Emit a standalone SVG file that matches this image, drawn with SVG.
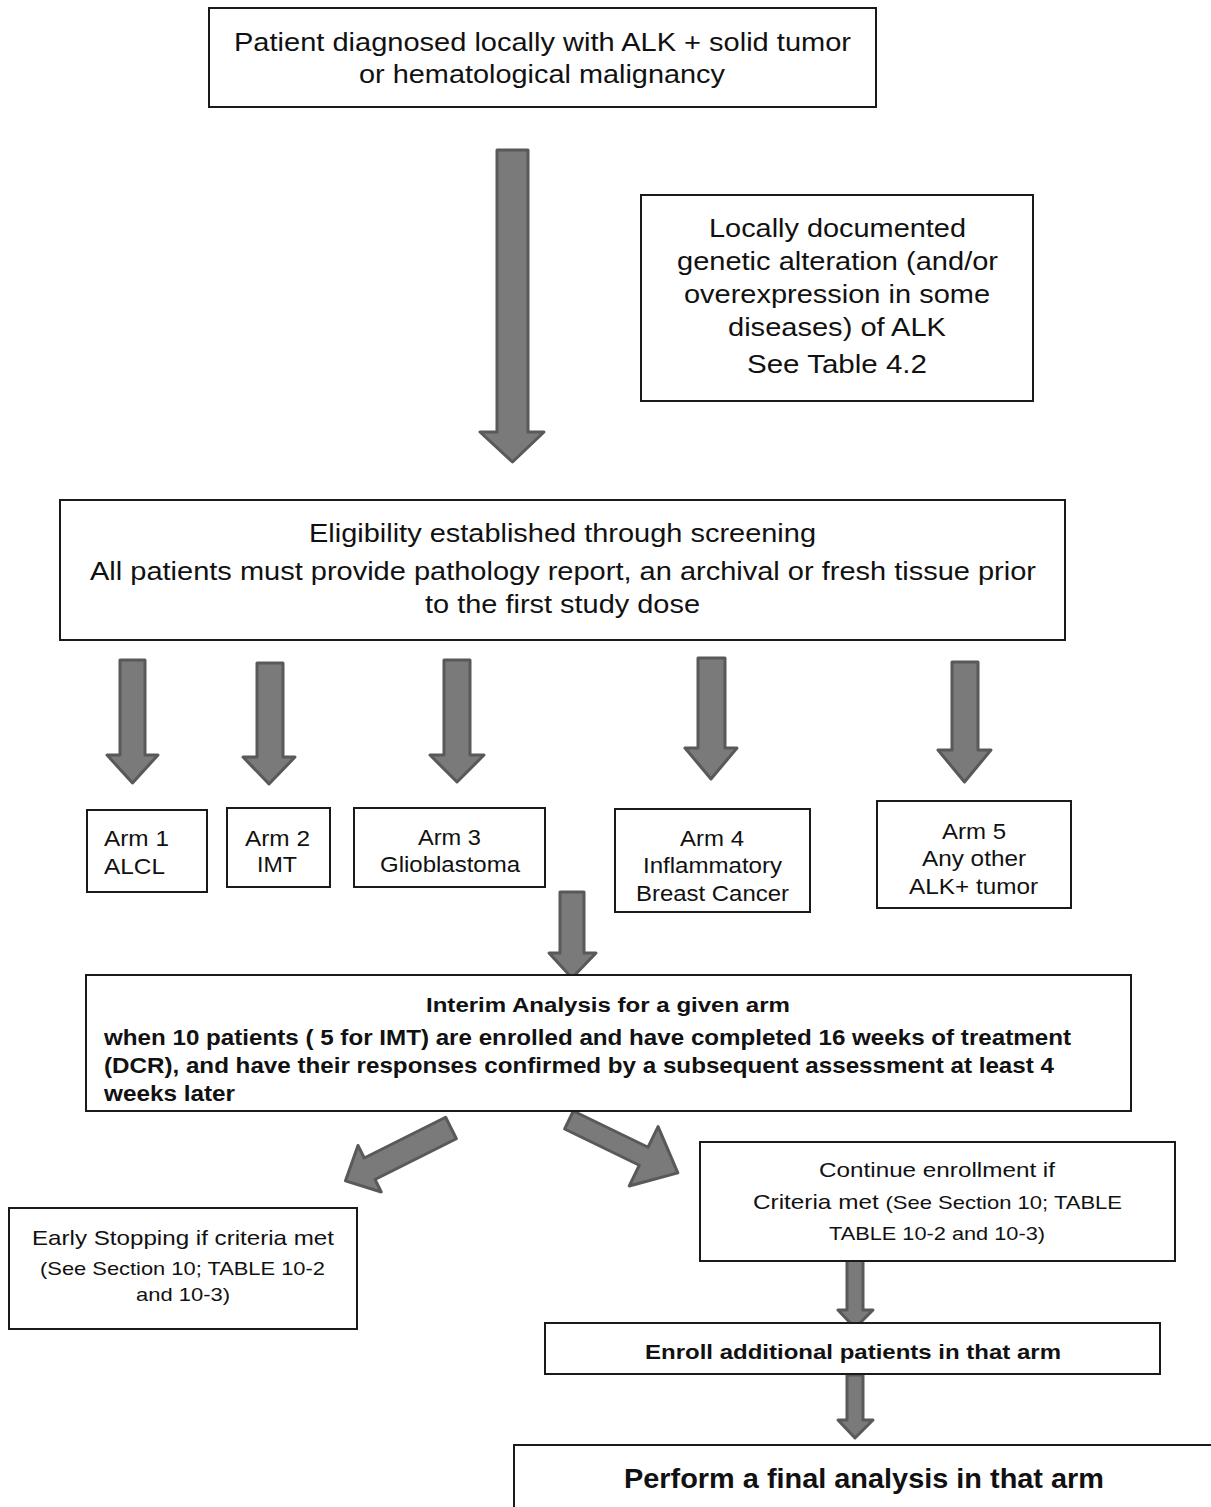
<svg xmlns="http://www.w3.org/2000/svg" width="1211" height="1507" viewBox="0 0 1211 1507">
<style>
.box{fill:#fff;stroke:#1a1a1a;stroke-width:2}
.arr{fill:#7a7a7a;stroke:#595959;stroke-width:3;stroke-linejoin:round}
.t{font-family:"Liberation Sans",Arial,sans-serif;fill:#111}
.c{text-anchor:middle}
.b{font-family:"Liberation Sans Narrow","Liberation Sans",Arial,sans-serif;font-weight:bold;fill:#111}
</style>
<rect width="1211" height="1507" fill="#fff"/>
<g id="connectors">
<path class="arr" d="M497,150 H528 V432 H544 L512.5,462 L480,432 H497 Z"/>
<path class="arr" d="M120,660 H145 V755 H158 L132.5,783 L107,755 H120 Z"/>
<path class="arr" d="M257,663 H283 V757 H295 L269,784 L243,757 H257 Z"/>
<path class="arr" d="M444,660 H470 V755 H484 L457,782 L430,755 H444 Z"/>
<path class="arr" d="M698,658 H725 V748 H737 L711,779 L685,748 H698 Z"/>
<path class="arr" d="M952,662 H978 V750 H991 L964.5,782 L938,750 H952 Z"/>
<path class="arr" d="M560,892 H584 V953 H596 L572,978 L549,953 H560 Z"/>
<path class="arr" transform="translate(451,1128) rotate(153.4)" d="M0,-12 H91 V-26 L118,0 L91,26 V12 H0 Z"/>
<path class="arr" transform="translate(569,1120) rotate(25.9)" d="M0,-10 H83 V-33 L121,0 L83,33 V10 H0 Z"/>
<path class="arr" d="M847,1257 H863 V1310 H873 L855,1328 L838,1310 H847 Z"/>
<path class="arr" d="M847,1375 H863 V1420 H873 L855,1438 L838,1420 H847 Z"/>
</g>
<g id="n_patient">
<rect class="box" x="209" y="8" width="667" height="99"/>
<text class="t c" x="542.5" y="51" font-size="26" textLength="617" lengthAdjust="spacingAndGlyphs">Patient diagnosed locally with ALK + solid tumor</text>
<text class="t c" x="542" y="83" font-size="26" textLength="366" lengthAdjust="spacingAndGlyphs">or hematological malignancy</text>
</g>
<g id="n_genetic">
<rect class="box" x="641" y="195" width="392" height="206"/>
<text class="t c" x="837.5" y="237" font-size="26" textLength="257" lengthAdjust="spacingAndGlyphs">Locally documented</text>
<text class="t c" x="837.5" y="270" font-size="26" textLength="321" lengthAdjust="spacingAndGlyphs">genetic alteration (and/or</text>
<text class="t c" x="837" y="303" font-size="26" textLength="306" lengthAdjust="spacingAndGlyphs">overexpression in some</text>
<text class="t c" x="837" y="336" font-size="26" textLength="218" lengthAdjust="spacingAndGlyphs">diseases) of ALK</text>
<text class="t c" x="837" y="373" font-size="26" textLength="180" lengthAdjust="spacingAndGlyphs">See Table 4.2</text>
</g>
<g id="n_eligibility">
<rect class="box" x="60" y="500" width="1005" height="140"/>
<text class="t c" x="562.5" y="542" font-size="26" textLength="507" lengthAdjust="spacingAndGlyphs">Eligibility established through screening</text>
<text class="t c" x="563" y="580" font-size="26" textLength="946" lengthAdjust="spacingAndGlyphs">All patients must provide pathology report, an archival or fresh tissue prior</text>
<text class="t c" x="562.5" y="613" font-size="26" textLength="275" lengthAdjust="spacingAndGlyphs">to the first study dose</text>
</g>
<g id="n_arm1">
<rect class="box" x="87" y="810" width="120" height="82"/>
<text class="t" x="104" y="846" font-size="22" textLength="65" lengthAdjust="spacingAndGlyphs">Arm 1</text>
<text class="t" x="104" y="874" font-size="22" textLength="61" lengthAdjust="spacingAndGlyphs">ALCL</text>
</g>
<g id="n_arm2">
<rect class="box" x="227" y="808" width="103" height="79"/>
<text class="t c" x="277.5" y="846" font-size="22" textLength="65" lengthAdjust="spacingAndGlyphs">Arm 2</text>
<text class="t c" x="277" y="872" font-size="22" textLength="40" lengthAdjust="spacingAndGlyphs">IMT</text>
</g>
<g id="n_arm3">
<rect class="box" x="354" y="808" width="191" height="79"/>
<text class="t c" x="449.5" y="845" font-size="22" textLength="63" lengthAdjust="spacingAndGlyphs">Arm 3</text>
<text class="t c" x="450" y="872" font-size="22" textLength="140" lengthAdjust="spacingAndGlyphs">Glioblastoma</text>
</g>
<g id="n_arm4">
<rect class="box" x="615" y="809" width="195" height="103"/>
<text class="t c" x="712" y="846" font-size="22" textLength="64" lengthAdjust="spacingAndGlyphs">Arm 4</text>
<text class="t c" x="712.5" y="873" font-size="22" textLength="139" lengthAdjust="spacingAndGlyphs">Inflammatory</text>
<text class="t c" x="712.5" y="901" font-size="22" textLength="153" lengthAdjust="spacingAndGlyphs">Breast Cancer</text>
</g>
<g id="n_arm5">
<rect class="box" x="877" y="801" width="194" height="107"/>
<text class="t c" x="974" y="839" font-size="22" textLength="64" lengthAdjust="spacingAndGlyphs">Arm 5</text>
<text class="t c" x="974" y="866" font-size="22" textLength="104" lengthAdjust="spacingAndGlyphs">Any other</text>
<text class="t c" x="973.5" y="894" font-size="22" textLength="129" lengthAdjust="spacingAndGlyphs">ALK+ tumor</text>
</g>
<g id="n_interim">
<rect class="box" x="86" y="975" width="1045" height="136"/>
<text class="b c" x="608" y="1012" font-size="20" textLength="364" lengthAdjust="spacingAndGlyphs">Interim Analysis for a given arm</text>
<text class="b" x="104" y="1045" font-size="22" textLength="967" lengthAdjust="spacingAndGlyphs">when 10 patients ( 5 for IMT) are enrolled and have completed 16 weeks of treatment</text>
<text class="b" x="104" y="1073" font-size="22" textLength="950" lengthAdjust="spacingAndGlyphs">(DCR), and have their responses confirmed by a subsequent assessment at least 4</text>
<text class="b" x="104" y="1101" font-size="22" textLength="131" lengthAdjust="spacingAndGlyphs">weeks later</text>
</g>
<g id="n_early">
<rect class="box" x="9" y="1208" width="348" height="121"/>
<text class="t c" x="183" y="1245" font-size="21" textLength="302" lengthAdjust="spacingAndGlyphs">Early Stopping if criteria met</text>
<text class="t c" x="182.5" y="1275" font-size="19" textLength="285" lengthAdjust="spacingAndGlyphs">(See Section 10; TABLE 10-2</text>
<text class="t c" x="183" y="1301" font-size="19" textLength="94" lengthAdjust="spacingAndGlyphs">and 10-3)</text>
</g>
<g id="n_continue">
<rect class="box" x="700" y="1142" width="475" height="119"/>
<text class="t c" x="937" y="1177" font-size="21" textLength="236" lengthAdjust="spacingAndGlyphs">Continue enrollment if</text>
<text class="t c" x="937.5" y="1209" font-size="21" textLength="369" lengthAdjust="spacingAndGlyphs">Criteria met <tspan font-size="19">(See Section 10; TABLE</tspan></text>
<text class="t c" x="937" y="1240" font-size="19" textLength="216" lengthAdjust="spacingAndGlyphs">TABLE 10-2 and 10-3)</text>
</g>
<g id="n_enroll">
<rect class="box" x="545" y="1323" width="615" height="51"/>
<text class="b c" x="853" y="1359" font-size="21" textLength="416" lengthAdjust="spacingAndGlyphs">Enroll additional patients in that arm</text>
</g>
<g id="n_final">
<rect class="box" x="514" y="1445" width="710" height="80"/>
<text class="b c" x="864" y="1488" font-size="28" textLength="480" lengthAdjust="spacingAndGlyphs">Perform a final analysis in that arm</text>
</g>
</svg>
